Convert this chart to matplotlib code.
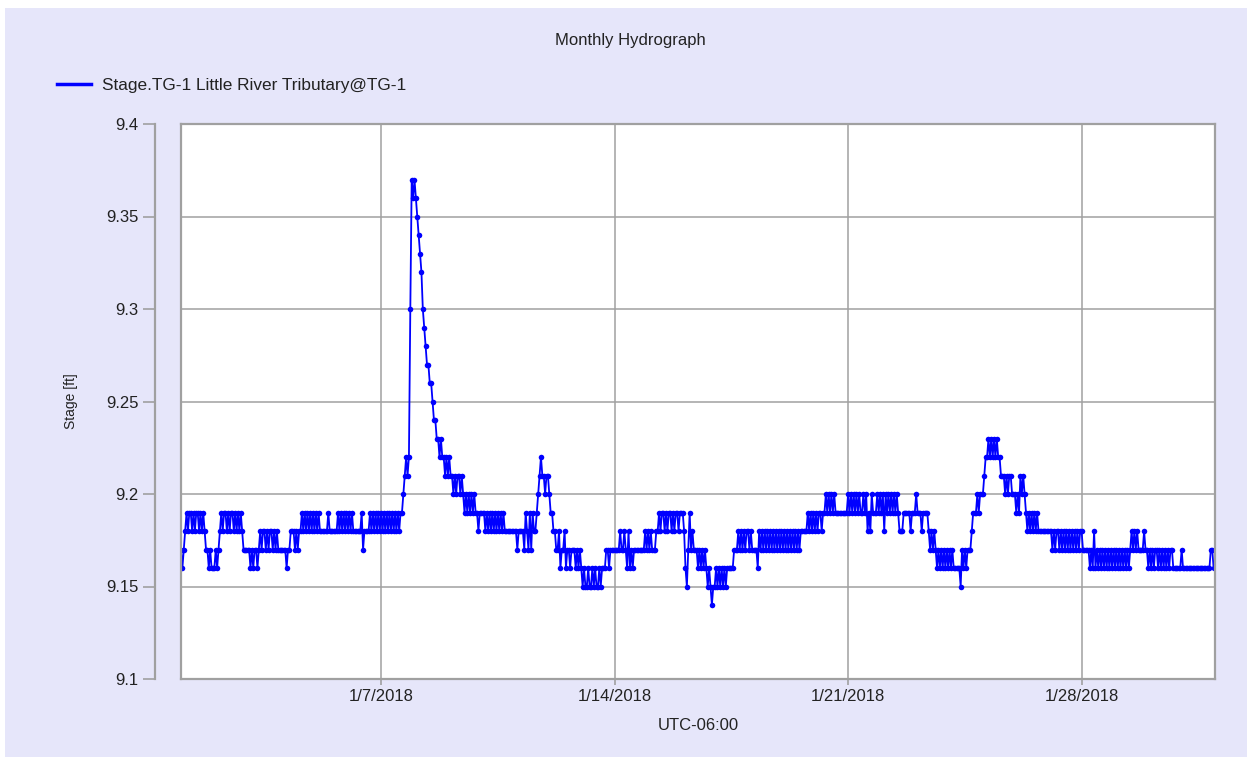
import pandas as pd
import matplotlib
matplotlib.use("Agg")
import matplotlib.pyplot as plt
from matplotlib.lines import Line2D
from matplotlib.patches import Rectangle

week1 = [  # Jan 1 - Jan 7
    9.17, 9.16, 9.17, 9.18, 9.19, 9.18, 9.19, 9.19, 9.18, 9.19, 9.18, 9.19, 9.19, 9.18, 9.19, 9.18, 9.19, 9.18, 9.17, 9.17, 9.16, 9.17, 9.16, 9.16,
    9.16, 9.17, 9.16, 9.17, 9.18, 9.19, 9.18, 9.19, 9.19, 9.18, 9.19, 9.18, 9.19, 9.19, 9.18, 9.19, 9.18, 9.19, 9.18, 9.19, 9.18, 9.17, 9.17, 9.17,
    9.17, 9.17, 9.16, 9.17, 9.16, 9.17, 9.17, 9.16, 9.17, 9.18, 9.17, 9.18, 9.18, 9.17, 9.18, 9.17, 9.18, 9.18, 9.17, 9.18, 9.17, 9.18, 9.17, 9.17,
    9.17, 9.17, 9.17, 9.17, 9.16, 9.17, 9.17, 9.18, 9.18, 9.18, 9.17, 9.18, 9.17, 9.18, 9.18, 9.19, 9.18, 9.19, 9.18, 9.19, 9.18, 9.19, 9.18, 9.19,
    9.18, 9.19, 9.18, 9.19, 9.18, 9.18, 9.18, 9.18, 9.18, 9.18, 9.19, 9.18, 9.18, 9.18, 9.18, 9.18, 9.18, 9.19, 9.18, 9.19, 9.18, 9.19, 9.18, 9.19,
    9.18, 9.19, 9.18, 9.19, 9.18, 9.18, 9.18, 9.18, 9.18, 9.18, 9.19, 9.17, 9.18, 9.18, 9.18, 9.18, 9.19, 9.18, 9.19, 9.18, 9.19, 9.18, 9.19, 9.18,
    9.19, 9.18, 9.19, 9.18, 9.19, 9.18, 9.19, 9.18, 9.19, 9.18, 9.19, 9.18, 9.19, 9.18, 9.19, 9.19, 9.20, 9.21, 9.22, 9.21, 9.22, 9.30, 9.37, 9.36,
]
week2 = [  # Jan 8 - Jan 14
    9.37, 9.36, 9.35, 9.34, 9.33, 9.32, 9.30, 9.29, 9.28, 9.27, 9.27, 9.26, 9.26, 9.25, 9.24, 9.24, 9.23, 9.23, 9.22, 9.23, 9.22, 9.22, 9.21, 9.22,
    9.21, 9.22, 9.21, 9.21, 9.20, 9.21, 9.20, 9.21, 9.21, 9.20, 9.21, 9.20, 9.19, 9.20, 9.19, 9.20, 9.19, 9.20, 9.19, 9.20, 9.19, 9.19, 9.18, 9.19,
    9.19, 9.19, 9.19, 9.18, 9.19, 9.18, 9.19, 9.18, 9.19, 9.18, 9.19, 9.18, 9.19, 9.18, 9.19, 9.18, 9.19, 9.18, 9.18, 9.18, 9.18, 9.18, 9.18, 9.18,
    9.18, 9.18, 9.17, 9.18, 9.18, 9.18, 9.18, 9.17, 9.19, 9.18, 9.17, 9.19, 9.17, 9.19, 9.18, 9.18, 9.19, 9.20, 9.21, 9.22, 9.21, 9.21, 9.20, 9.21,
    9.21, 9.20, 9.19, 9.19, 9.18, 9.18, 9.17, 9.17, 9.18, 9.16, 9.17, 9.17, 9.18, 9.16, 9.17, 9.17, 9.16, 9.17, 9.17, 9.17, 9.16, 9.17, 9.16, 9.17,
    9.16, 9.15, 9.16, 9.15, 9.15, 9.16, 9.15, 9.15, 9.16, 9.15, 9.16, 9.15, 9.15, 9.16, 9.15, 9.16, 9.16, 9.16, 9.17, 9.17, 9.16, 9.17, 9.17, 9.17,
    9.17, 9.17, 9.17, 9.17, 9.18, 9.17, 9.17, 9.18, 9.17, 9.16, 9.18, 9.16, 9.17, 9.16, 9.17, 9.17, 9.17, 9.17, 9.17, 9.17, 9.17, 9.17, 9.18, 9.17,
]
week3 = [  # Jan 15 - Jan 21
    9.18, 9.17, 9.18, 9.17, 9.17, 9.17, 9.18, 9.18, 9.19, 9.18, 9.19, 9.19, 9.18, 9.19, 9.18, 9.19, 9.19, 9.18, 9.19, 9.18, 9.19, 9.19, 9.18, 9.19,
    9.19, 9.19, 9.18, 9.16, 9.15, 9.17, 9.19, 9.17, 9.18, 9.17, 9.17, 9.17, 9.16, 9.17, 9.16, 9.17, 9.16, 9.17, 9.16, 9.15, 9.16, 9.15, 9.14, 9.15,
    9.15, 9.16, 9.15, 9.16, 9.15, 9.16, 9.15, 9.16, 9.15, 9.16, 9.16, 9.16, 9.16, 9.16, 9.17, 9.17, 9.17, 9.18, 9.17, 9.18, 9.17, 9.18, 9.17, 9.18,
    9.18, 9.17, 9.18, 9.17, 9.17, 9.17, 9.17, 9.16, 9.18, 9.17, 9.18, 9.17, 9.18, 9.17, 9.18, 9.17, 9.18, 9.17, 9.18, 9.17, 9.18, 9.17, 9.18, 9.17,
    9.18, 9.17, 9.18, 9.17, 9.18, 9.17, 9.18, 9.17, 9.18, 9.17, 9.18, 9.17, 9.18, 9.17, 9.18, 9.18, 9.18, 9.18, 9.18, 9.19, 9.18, 9.19, 9.18, 9.19,
    9.18, 9.19, 9.18, 9.19, 9.19, 9.18, 9.19, 9.19, 9.20, 9.19, 9.20, 9.19, 9.20, 9.19, 9.20, 9.19, 9.19, 9.19, 9.19, 9.19, 9.19, 9.19, 9.19, 9.19,
    9.20, 9.19, 9.20, 9.19, 9.20, 9.19, 9.20, 9.19, 9.20, 9.19, 9.19, 9.20, 9.19, 9.20, 9.18, 9.19, 9.18, 9.20, 9.19, 9.19, 9.19, 9.20, 9.19, 9.20,
]
week4 = [  # Jan 22 - Jan 28
    9.19, 9.20, 9.18, 9.20, 9.19, 9.20, 9.19, 9.20, 9.19, 9.20, 9.19, 9.20, 9.19, 9.18, 9.18, 9.18, 9.19, 9.19, 9.19, 9.19, 9.19, 9.18, 9.19, 9.19,
    9.19, 9.20, 9.19, 9.19, 9.19, 9.18, 9.19, 9.19, 9.19, 9.19, 9.18, 9.17, 9.18, 9.17, 9.18, 9.17, 9.16, 9.17, 9.16, 9.17, 9.16, 9.17, 9.16, 9.17,
    9.16, 9.17, 9.16, 9.17, 9.16, 9.16, 9.16, 9.16, 9.16, 9.15, 9.17, 9.16, 9.17, 9.16, 9.17, 9.17, 9.17, 9.18, 9.19, 9.19, 9.19, 9.20, 9.19, 9.20,
    9.20, 9.20, 9.21, 9.22, 9.22, 9.23, 9.22, 9.23, 9.22, 9.23, 9.22, 9.23, 9.22, 9.22, 9.21, 9.21, 9.21, 9.20, 9.21, 9.20, 9.21, 9.21, 9.20, 9.20,
    9.20, 9.19, 9.20, 9.19, 9.21, 9.20, 9.21, 9.20, 9.19, 9.18, 9.19, 9.18, 9.19, 9.18, 9.19, 9.18, 9.19, 9.18, 9.18, 9.18, 9.18, 9.18, 9.18, 9.18,
    9.18, 9.18, 9.18, 9.17, 9.18, 9.17, 9.18, 9.18, 9.17, 9.18, 9.17, 9.18, 9.17, 9.18, 9.17, 9.18, 9.17, 9.18, 9.17, 9.18, 9.17, 9.18, 9.17, 9.18,
    9.18, 9.17, 9.17, 9.17, 9.17, 9.17, 9.16, 9.17, 9.16, 9.18, 9.16, 9.17, 9.16, 9.17, 9.16, 9.17, 9.16, 9.17, 9.16, 9.17, 9.16, 9.17, 9.16, 9.17,
]
week5 = [  # Jan 29 - Jan 31
    9.16, 9.17, 9.16, 9.17, 9.16, 9.17, 9.16, 9.17, 9.16, 9.17, 9.16, 9.17, 9.18, 9.17, 9.18, 9.17, 9.18, 9.17, 9.17, 9.17, 9.17, 9.18, 9.17, 9.17,
    9.16, 9.17, 9.16, 9.17, 9.16, 9.17, 9.17, 9.16, 9.17, 9.16, 9.17, 9.16, 9.17, 9.16, 9.17, 9.16, 9.17, 9.17, 9.16, 9.16, 9.16, 9.16, 9.16, 9.16,
    9.17, 9.16, 9.16, 9.16, 9.16, 9.16, 9.16, 9.16, 9.16, 9.16, 9.16, 9.16, 9.16, 9.16, 9.16, 9.16, 9.16, 9.16, 9.16, 9.16, 9.16, 9.17, 9.17, 9.16,
]

series_name = "Stage.TG-1 Little River Tributary@TG-1"
tick_dates = ["2018-01-07", "2018-01-14", "2018-01-21", "2018-01-28"]
tick_labels = ["1/7/2018", "1/14/2018", "1/21/2018", "1/28/2018"]
y_ticks = [9.1, 9.15, 9.2, 9.25, 9.3, 9.35, 9.4]
y_labels = ["9.1", "9.15", "9.2", "9.25", "9.3", "9.35", "9.4"]

stage = week1 + week2 + week3 + week4 + week5
times = pd.date_range("2018-01-01 00:00", periods=len(stage), freq="h")

plt.rcParams["font.family"] = ["Liberation Sans", "DejaVu Sans"]
W, H = 1252, 762
gray = "#a0a0a0"
blue = "#0000ff"

fig = plt.figure(figsize=(W / 100, H / 100), dpi=100, facecolor="white")
fig.patches.append(Rectangle((5 / W, 5 / H), 1242 / W, 749 / H, transform=fig.transFigure,
                             facecolor="#e6e6fa", edgecolor="none", zorder=-10))

ax = fig.add_axes([181 / W, 1 - 679 / H, 1034 / W, 555 / H])
ax.set_facecolor("white")
ax.plot(times, stage, color=blue, lw=1.3, marker="o", ms=4, mew=0)

ax.set_xlim(pd.Timestamp("2018-01-01"), pd.Timestamp("2018-02-01"))
ax.set_ylim(9.1, 9.4)
ax.set_xticks(pd.to_datetime(tick_dates))
ax.set_xticklabels(tick_labels)
ax.set_yticks(y_ticks)
ax.set_yticklabels(y_labels)
ax.grid(True, color=gray, lw=1.1)
ax.set_axisbelow(True)

for s in ax.spines.values():
    s.set_color(gray)
    s.set_linewidth(1.6)
# offset y axis: 26 px left of the plot box (offset is given in points)
ax.spines["left"].set_position(("outward", 26 * 0.72))
ax.plot([0, 0], [0, 1], transform=ax.transAxes, color=gray, lw=1.6, clip_on=False, zorder=5)

ax.tick_params(axis="y", direction="out", length=9, width=1.2, color=gray, pad=3, labelsize=12, labelcolor="#222222")
ax.tick_params(axis="x", direction="out", length=4.5, width=1.2, color=gray, pad=3, labelsize=12, labelcolor="#222222")

ax.set_ylabel("Stage [ft]", fontsize=10, color="#222222")
ax.yaxis.set_label_coords(-0.0996, 0.5)
ax.set_xlabel("UTC-06:00", fontsize=12, color="#222222")
ax.xaxis.set_label_coords(0.5, -0.070)

fig.text(630 / W, 1 - 40 / H, "Monthly Hydrograph", ha="center", va="center", fontsize=12, color="#222222")
fig.legend(handles=[Line2D([], [], color=blue, lw=2.5)], labels=[series_name],
           loc="center left", bbox_to_anchor=(57 / W, 1 - 85 / H), frameon=False,
           borderpad=0, borderaxespad=0, handlelength=2.0, handletextpad=0.6, fontsize=12.4,
           labelcolor="#222222")

fig.savefig("out.png", dpi=100)
